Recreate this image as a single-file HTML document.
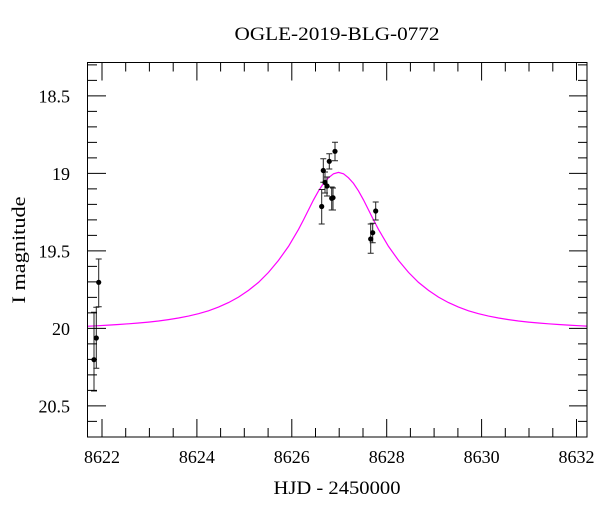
<!DOCTYPE html>
<html>
<head>
<meta charset="utf-8">
<style>
  html, body { margin: 0; padding: 0; background: #ffffff; }
  svg { display: block; }
  text { font-family: "Liberation Serif", "DejaVu Serif", serif; fill: #000; }
</style>
</head>
<body>
<svg width="600" height="512" viewBox="0 0 600 512" xmlns="http://www.w3.org/2000/svg">
  <rect x="0" y="0" width="600" height="512" fill="#fff"/>

  <!-- Title -->
  <text x="337" y="40" font-size="19" text-anchor="middle" textLength="205" lengthAdjust="spacingAndGlyphs">OGLE-2019-BLG-0772</text>

  <defs>
    <clipPath id="plot">
      <rect x="87.5" y="62.5" width="499.5" height="374.5"/>
    </clipPath>
  </defs>

  <!-- Model curve -->
  <polyline clip-path="url(#plot)" fill="none" stroke="#ff00ff" stroke-width="1.2"
    points="86,326.2 88.5,326.2 98.5,325.7 108.5,325.1 118.5,324.5 128.5,323.8 138.5,323.0 148.5,322.1 158.5,321.0 168.5,319.6 178.5,318.0 188.5,316.1 198.5,313.7 208.5,310.8 218.5,307.1 228.5,302.6 238.5,297.1 248.5,290.4 258.5,282.4 268.5,272.4 278.5,260.4 288.5,246.4 298.5,229.4 303.5,219.9 308.5,209.9 313.5,199.9 318.5,190.9 323.5,183.4 328.5,177.8 333.5,173.8 338.5,172.4 343.5,173.8 348.5,177.8 353.5,183.4 358.5,190.9 363.5,199.9 368.5,209.9 373.5,219.9 378.5,229.4 388.5,246.4 398.5,260.4 408.5,272.4 418.5,282.4 428.5,290.4 438.5,297.1 448.5,302.6 458.5,307.1 468.5,310.8 478.5,313.7 488.5,316.1 498.5,318.0 508.5,319.6 518.5,321.0 528.5,322.1 538.5,323.0 548.5,323.8 558.5,324.5 568.5,325.1 578.5,325.7 588.5,326.2"/>

  <!-- Error bars -->
  <g stroke="#222" stroke-width="1" fill="none">
    <!-- left group -->
    <path d="M94,312.3 V391 M91,312.3 H97 M91,391 H97"/>
    <path d="M96.3,307.3 V368.3 M93.3,307.3 H99.3 M93.3,368.3 H99.3"/>
    <path d="M98.7,259 V306.7 M95.7,259 H101.7 M95.7,306.7 H101.7"/>
    <!-- peak cluster -->
    <path d="M321.7,189.5 V224 M318.7,189.5 H324.7 M318.7,224 H324.7"/>
    <path d="M323.3,158.7 V182.3 M320.3,158.7 H326.3 M320.3,182.3 H326.3"/>
    <path d="M325,172 V193 M322,172 H328 M322,193 H328"/>
    <path d="M327,177 V196 M324,177 H330 M324,196 H330"/>
    <path d="M329.3,153.7 V169 M326.3,153.7 H332.3 M326.3,169 H332.3"/>
    <path d="M331.7,187 V210 M328.7,187 H334.7 M328.7,210 H334.7"/>
    <path d="M333,188 V210 M330,188 H336 M330,210 H336"/>
    <path d="M335,142.3 V160.7 M332,142.3 H338 M332,160.7 H338"/>
    <!-- right group -->
    <path d="M375.7,202 V220 M372.7,202 H378.7 M372.7,220 H378.7"/>
    <path d="M372.7,223.3 V242.7 M369.7,223.3 H375.7 M369.7,242.7 H375.7"/>
    <path d="M370.7,224 V253.3 M367.7,224 H373.7 M367.7,253.3 H373.7"/>
  </g>

  <!-- Data points -->
  <g fill="#000">
    <circle cx="94" cy="359.7" r="2.6"/>
    <circle cx="96.3" cy="338" r="2.6"/>
    <circle cx="98.7" cy="282.3" r="2.6"/>
    <circle cx="321.7" cy="206.5" r="2.6"/>
    <circle cx="323.3" cy="170.5" r="2.6"/>
    <circle cx="325" cy="182.5" r="2.6"/>
    <circle cx="327" cy="186" r="2.6"/>
    <circle cx="329.3" cy="161.3" r="2.6"/>
    <circle cx="331.7" cy="198.3" r="2.6"/>
    <circle cx="333" cy="197.7" r="2.6"/>
    <circle cx="335" cy="151.3" r="2.6"/>
    <circle cx="375.7" cy="211" r="2.6"/>
    <circle cx="372.7" cy="232.7" r="2.6"/>
    <circle cx="370.7" cy="239" r="2.6"/>
  </g>

  <!-- Frame -->
  <rect x="87.5" y="62.5" width="499.5" height="374.5" fill="none" stroke="#000" stroke-width="1"/>

  <!-- X ticks (bottom + top) -->
  <g stroke="#000" stroke-width="1">
    <!-- majors at 8622..8632 every 2 -->
    <path d="M102,437 V419 M196.9,437 V419 M291.8,437 V419 M386.7,437 V419 M481.6,437 V419 M576.5,437 V419"/>
    <path d="M102,62.5 V80.5 M196.9,62.5 V80.5 M291.8,62.5 V80.5 M386.7,62.5 V80.5 M481.6,62.5 V80.5 M576.5,62.5 V80.5"/>
    <!-- minors every 0.5 -->
    <path d="M125.7,437 V428 M149.4,437 V428 M173.2,437 V428 M220.6,437 V428 M244.3,437 V428 M268.1,437 V428 M315.5,437 V428 M339.2,437 V428 M363,437 V428 M410.4,437 V428 M434.1,437 V428 M457.9,437 V428 M505.3,437 V428 M529,437 V428 M552.8,437 V428"/>
    <path d="M125.7,62.5 V71.5 M149.4,62.5 V71.5 M173.2,62.5 V71.5 M220.6,62.5 V71.5 M244.3,62.5 V71.5 M268.1,62.5 V71.5 M315.5,62.5 V71.5 M339.2,62.5 V71.5 M363,62.5 V71.5 M410.4,62.5 V71.5 M434.1,62.5 V71.5 M457.9,62.5 V71.5 M505.3,62.5 V71.5 M529,62.5 V71.5 M552.8,62.5 V71.5"/>
  </g>

  <!-- Y ticks (left + right) -->
  <g stroke="#000" stroke-width="1">
    <!-- majors 18.5, 19, 19.5, 20, 20.5 -->
    <path d="M87.5,95.9 H106 M87.5,173.4 H106 M87.5,250.9 H106 M87.5,328.4 H106 M87.5,405.9 H106"/>
    <path d="M587,95.9 H569 M587,173.4 H569 M587,250.9 H569 M587,328.4 H569 M587,405.9 H569"/>
    <!-- minors every 0.1 -->
    <path d="M87.5,64.9 H97 M87.5,80.4 H97 M87.5,111.4 H97 M87.5,126.9 H97 M87.5,142.4 H97 M87.5,157.9 H97 M87.5,188.9 H97 M87.5,204.4 H97 M87.5,219.9 H97 M87.5,235.4 H97 M87.5,266.4 H97 M87.5,281.9 H97 M87.5,297.4 H97 M87.5,312.9 H97 M87.5,343.9 H97 M87.5,359.4 H97 M87.5,374.9 H97 M87.5,390.4 H97 M87.5,421.4 H97"/>
    <path d="M587,64.9 H578 M587,80.4 H578 M587,111.4 H578 M587,126.9 H578 M587,142.4 H578 M587,157.9 H578 M587,188.9 H578 M587,204.4 H578 M587,219.9 H578 M587,235.4 H578 M587,266.4 H578 M587,281.9 H578 M587,297.4 H578 M587,312.9 H578 M587,343.9 H578 M587,359.4 H578 M587,374.9 H578 M587,390.4 H578 M587,421.4 H578"/>
  </g>

  <!-- Y tick labels -->
  <g font-size="18" text-anchor="end">
    <text x="70" y="102.5">18.5</text>
    <text x="70" y="180">19</text>
    <text x="70" y="257.5">19.5</text>
    <text x="70" y="335">20</text>
    <text x="70" y="412.5">20.5</text>
  </g>

  <!-- X tick labels -->
  <g font-size="18" text-anchor="middle">
    <text x="102" y="463">8622</text>
    <text x="196.9" y="463">8624</text>
    <text x="291.8" y="463">8626</text>
    <text x="386.7" y="463">8628</text>
    <text x="481.6" y="463">8630</text>
    <text x="576.5" y="463">8632</text>
  </g>

  <!-- Axis titles -->
  <text x="337" y="494" font-size="19" text-anchor="middle" textLength="127" lengthAdjust="spacingAndGlyphs">HJD - 2450000</text>
  <text transform="translate(25,250) rotate(-90)" x="0" y="0" font-size="19" text-anchor="middle" textLength="107" lengthAdjust="spacingAndGlyphs">I magnitude</text>
</svg>
</body>
</html>
